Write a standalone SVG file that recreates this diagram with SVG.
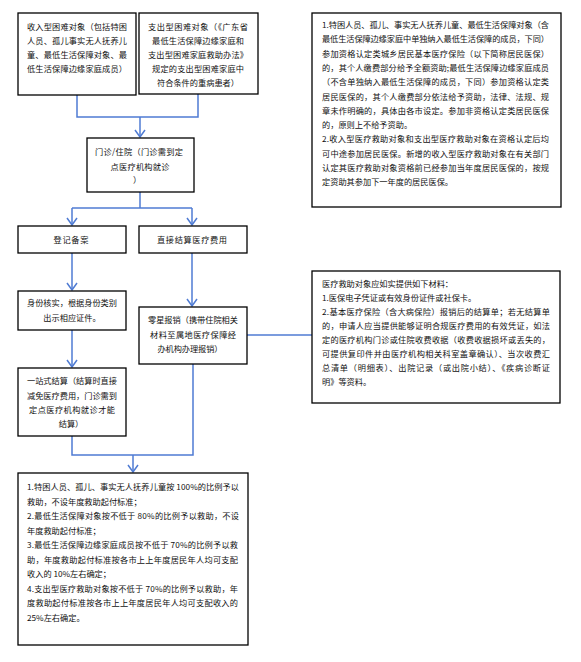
<svg xmlns="http://www.w3.org/2000/svg" width="581" height="662" viewBox="0 0 581 662">
<style>
.box{fill:#fff;stroke:#000;stroke-width:1.3}
text{font-family:"Noto Sans CJK SC","Noto Sans CJK JP",sans-serif;font-size:8.2px;fill:#111}
.c{text-anchor:middle}
.ln{fill:none;stroke:#4F7BD3;stroke-width:1.5}
</style>
<defs>
<marker id="ah" viewBox="0 0 7 10" refX="7" refY="5" markerWidth="7" markerHeight="10" markerUnits="userSpaceOnUse" orient="auto" overflow="visible">
<path d="M0,0 L7,5 L0,10" fill="none" stroke="#4F7BD3" stroke-width="1.5"/>
</marker>
</defs>
<rect width="581" height="662" fill="#fff"/>

<g id="connectors">
<path class="ln" d="M77,95 V117 H198 V94"/>
<path class="ln" d="M140,117 V137" marker-end="url(#ah)"/>
<path class="ln" d="M140,192 V208"/>
<path class="ln" d="M72,208 H192"/>
<path class="ln" d="M72,208 V225" marker-end="url(#ah)"/>
<path class="ln" d="M192,208 V225" marker-end="url(#ah)"/>
<path class="ln" d="M72,253 V290" marker-end="url(#ah)"/>
<path class="ln" d="M192,253 V306" marker-end="url(#ah)"/>
<path class="ln" d="M72,330 V367" marker-end="url(#ah)"/>
<path class="ln" d="M247,335 H312"/>
<path class="ln" d="M72,436 V455 H193 V364"/>
<path class="ln" d="M133,455 V472" marker-end="url(#ah)"/>
</g>

<g id="income-type">
<rect class="box" x="18" y="13" width="118" height="82"/>
<text x="27" y="29.5" textLength="100" lengthAdjust="spacing">收入型困难对象（包括特困</text>
<text x="27" y="43.5" textLength="100" lengthAdjust="spacing">人员、孤儿事实无人抚养儿</text>
<text x="27" y="57.5" textLength="100" lengthAdjust="spacing">童、最低生活保障对象、最</text>
<text x="27" y="71.5" textLength="100" lengthAdjust="spacing">低生活保障边缘家庭成员）</text>
</g>

<g id="expense-type">
<rect class="box" x="139" y="13" width="119" height="81"/>
<text class="c" x="198" y="29.5" textLength="100" lengthAdjust="spacing">支出型困难对象（《广东省</text>
<text class="c" x="198" y="43.5" textLength="92" lengthAdjust="spacing">最低生活保障边缘家庭和</text>
<text class="c" x="198" y="57.5" textLength="100" lengthAdjust="spacing">支出型困难家庭救助办法》</text>
<text class="c" x="198" y="71.5" textLength="92" lengthAdjust="spacing">规定的支出型困难家庭中</text>
<text class="c" x="198" y="85.5" textLength="82" lengthAdjust="spacing">符合条件的重病患者）</text>
</g>

<g id="insurance-note">
<rect class="box" x="312" y="13" width="249" height="194"/>
<text x="322" y="28" textLength="227" lengthAdjust="spacing">1.特困人员、孤儿、事实无人抚养儿童、最低生活保障对象（含</text>
<text x="322" y="42.3" textLength="227" lengthAdjust="spacing">最低生活保障边缘家庭中单独纳入最低生活保障的成员，下同）</text>
<text x="322" y="56.6" textLength="227" lengthAdjust="spacing">参加资格认定类城乡居民基本医疗保险（以下简称居民医保）</text>
<text x="322" y="70.9" textLength="227" lengthAdjust="spacing">的，其个人缴费部分给予全额资助;最低生活保障边缘家庭成员</text>
<text x="322" y="85.2" textLength="227" lengthAdjust="spacing">（不含单独纳入最低生活保障的成员，下同）参加资格认定类</text>
<text x="322" y="99.5" textLength="227" lengthAdjust="spacing">居民医保的，其个人缴费部分依法给予资助，法律、法规、规</text>
<text x="322" y="113.8" textLength="227" lengthAdjust="spacing">章未作明确的，具体由各市设定。参加非资格认定类居民医保</text>
<text x="322" y="128.1">的，原则上不给予资助。</text>
<text x="322" y="142.4" textLength="227" lengthAdjust="spacing">2.收入型医疗救助对象和支出型医疗救助对象在资格认定后均</text>
<text x="322" y="156.7" textLength="227" lengthAdjust="spacing">可中途参加居民医保。新增的收入型医疗救助对象在有关部门</text>
<text x="322" y="171" textLength="227" lengthAdjust="spacing">认定其医疗救助对象资格前已经参加当年度居民医保的，按规</text>
<text x="322" y="185.3">定资助其参加下一年度的居民医保。</text>
</g>

<g id="outpatient">
<rect class="box" x="87" y="138" width="107" height="54"/>
<text class="c" x="139" y="155" textLength="88" lengthAdjust="spacing">门诊/住院（门诊需到定</text>
<text class="c" x="140" y="170" textLength="59" lengthAdjust="spacing">点医疗机构就诊</text>
<text class="c" x="137" y="183">）</text>
</g>

<g id="register">
<rect class="box" x="18" y="226" width="108" height="27"/>
<text class="c" x="71" y="242.5" textLength="35" lengthAdjust="spacing">登记备案</text>
</g>

<g id="direct-settle">
<rect class="box" x="139" y="226" width="108" height="27"/>
<text class="c" x="192" y="242.5" textLength="70" lengthAdjust="spacing">直接结算医疗费用</text>
</g>

<g id="identity">
<rect class="box" x="18" y="291" width="108" height="39"/>
<text class="c" x="72" y="306" textLength="90" lengthAdjust="spacing">身份核实，根据身份类别</text>
<text class="c" x="72" y="321">出示相应证件。</text>
</g>

<g id="reimburse">
<rect class="box" x="139" y="307" width="108" height="57"/>
<text class="c" x="193" y="323" textLength="90" lengthAdjust="spacing">零星报销（携带住院相关</text>
<text class="c" x="193" y="338" textLength="86" lengthAdjust="spacing">材料至属地医疗保障经</text>
<text class="c" x="190" y="352" textLength="65" lengthAdjust="spacing">办机构办理报销）</text>
</g>

<g id="one-stop">
<rect class="box" x="18" y="368" width="108" height="68"/>
<text class="c" x="72" y="384" textLength="90" lengthAdjust="spacing">一站式结算（结算时直接</text>
<text class="c" x="72" y="399" textLength="90" lengthAdjust="spacing">减免医疗费用，门诊需到</text>
<text class="c" x="72" y="413" textLength="86" lengthAdjust="spacing">定点医疗机构就诊才能</text>
<text class="c" x="71" y="427">结算）</text>
</g>

<g id="materials">
<rect class="box" x="312" y="271" width="248" height="132"/>
<text x="322" y="287">医疗救助对象应如实提供如下材料：</text>
<text x="322" y="301">1.医保电子凭证或有效身份证件或社保卡。</text>
<text x="322" y="315" textLength="228" lengthAdjust="spacing">2.基本医疗保险（含大病保险）报销后的结算单；若无结算单</text>
<text x="322" y="329" textLength="228" lengthAdjust="spacing">的，申请人应当提供能够证明合规医疗费用的有效凭证，如法</text>
<text x="322" y="343" textLength="228" lengthAdjust="spacing">定的医疗机构门诊或住院收费收据（收费收据损坏或丢失的，</text>
<text x="322" y="357" textLength="228" lengthAdjust="spacing">可提供复印件并由医疗机构相关科室盖章确认）、当次收费汇</text>
<text x="322" y="371" textLength="228" lengthAdjust="spacing">总清单（明细表）、出院记录（或出院小结）、《疾病诊断证</text>
<text x="322" y="385">明》等资料。</text>
</g>

<g id="ratios">
<rect class="box" x="18" y="473" width="230" height="172"/>
<text x="27" y="490" textLength="212" lengthAdjust="spacing">1.特困人员、孤儿、事实无人抚养儿童按 100%的比例予以</text>
<text x="27" y="504.5">救助，不设年度救助起付标准；</text>
<text x="27" y="519" textLength="212" lengthAdjust="spacing">2.最低生活保障对象按不低于 80%的比例予以救助，不设</text>
<text x="27" y="533.5">年度救助起付标准；</text>
<text x="27" y="548" textLength="211" lengthAdjust="spacing">3.最低生活保障边缘家庭成员按不低于 70%的比例予以救</text>
<text x="27" y="562.5" textLength="211" lengthAdjust="spacing">助，年度救助起付标准按各市上上年度居民年人均可支配</text>
<text x="27" y="577">收入的 10%左右确定；</text>
<text x="27" y="591.5" textLength="211" lengthAdjust="spacing">4.支出型医疗救助对象按不低于 70%的比例予以救助，年</text>
<text x="27" y="606" textLength="211" lengthAdjust="spacing">度救助起付标准按各市上上年度居民年人均可支配收入的</text>
<text x="27" y="620.5">25%左右确定。</text>
</g>
</svg>
